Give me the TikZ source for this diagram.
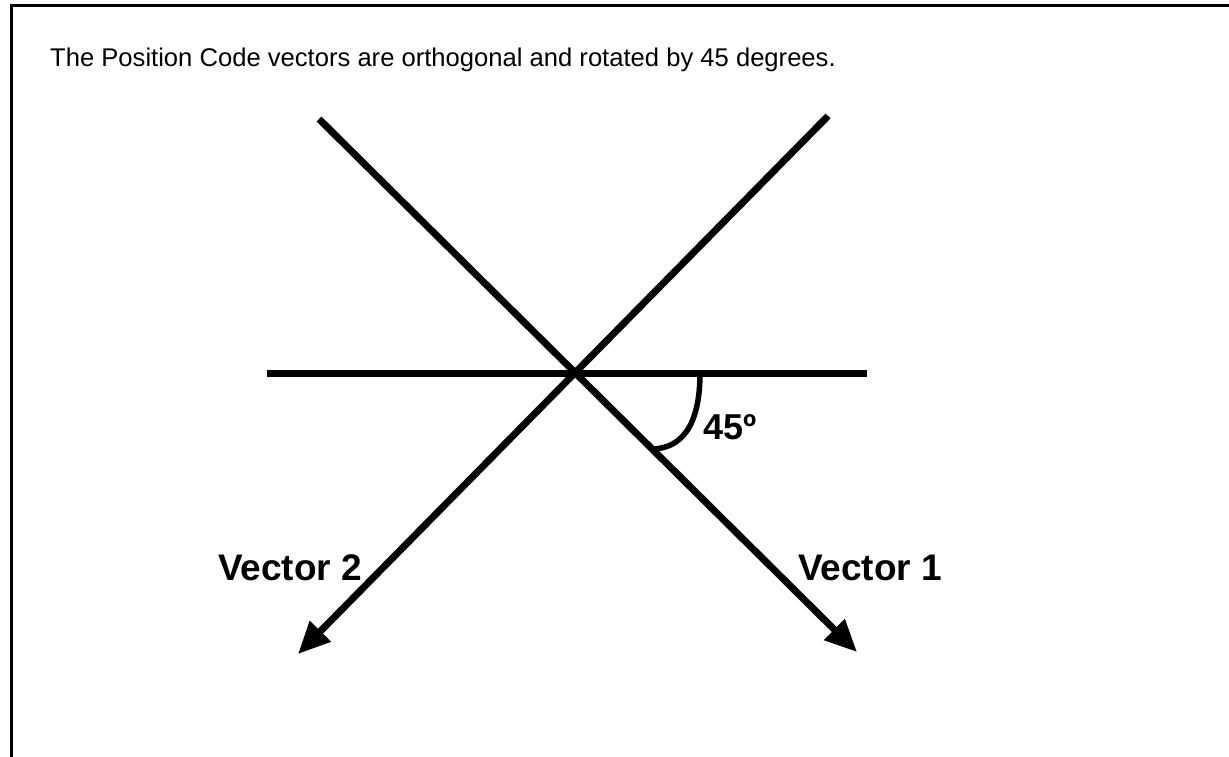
\documentclass[tikz,border=0pt]{standalone}
\usepackage{fontspec}
\setmainfont{Liberation Sans}
\usetikzlibrary{arrows.meta}
\tikzset{
    axis/.style={line width=7pt},
    vec/.style={line width=7pt, -{Triangle[length=32pt,width=28pt]}},
    lbl/.style={anchor=base west, inner sep=0pt, font=\fontsize{37}{40}\selectfont\bfseries},
}

\begin{document}
\begin{tikzpicture}[x=1pt,y=-1pt]
\clip (0,0) rectangle (1229,757);
\draw[line width=3pt] (11,6) rectangle (1260,790);
\node[anchor=base west, inner sep=0pt, font=\fontsize{25.6}{30}\selectfont] (title) at (50,67)
    {The Position Code vectors are orthogonal and rotated by 45 degrees.};
% the cross
\coordinate (c) at (575,373);
\coordinate (hl) at (267,373);
\coordinate (hr) at (867,373);
\coordinate (a1) at (319,119);
\coordinate (b1) at (857,652);
\coordinate (a2) at (828,116);
\coordinate (b2) at (298,654);
\draw[axis] (hl) -- (hr);
\draw[vec] (a1) -- (b1);
\draw[vec] (a2) -- (b2);
% angle mark
\draw[line width=5.5pt] (700,373) .. controls (700,425) and (682,449) .. (651,449);
\node[lbl, font=\fontsize{36}{40}\selectfont\bfseries] (ang) at (703,439) {45º};
\node[lbl] (v2) at (218,580) {Vector 2};
\node[lbl] (v1) at (798,580) {Vector 1};
\end{tikzpicture}
\end{document}
